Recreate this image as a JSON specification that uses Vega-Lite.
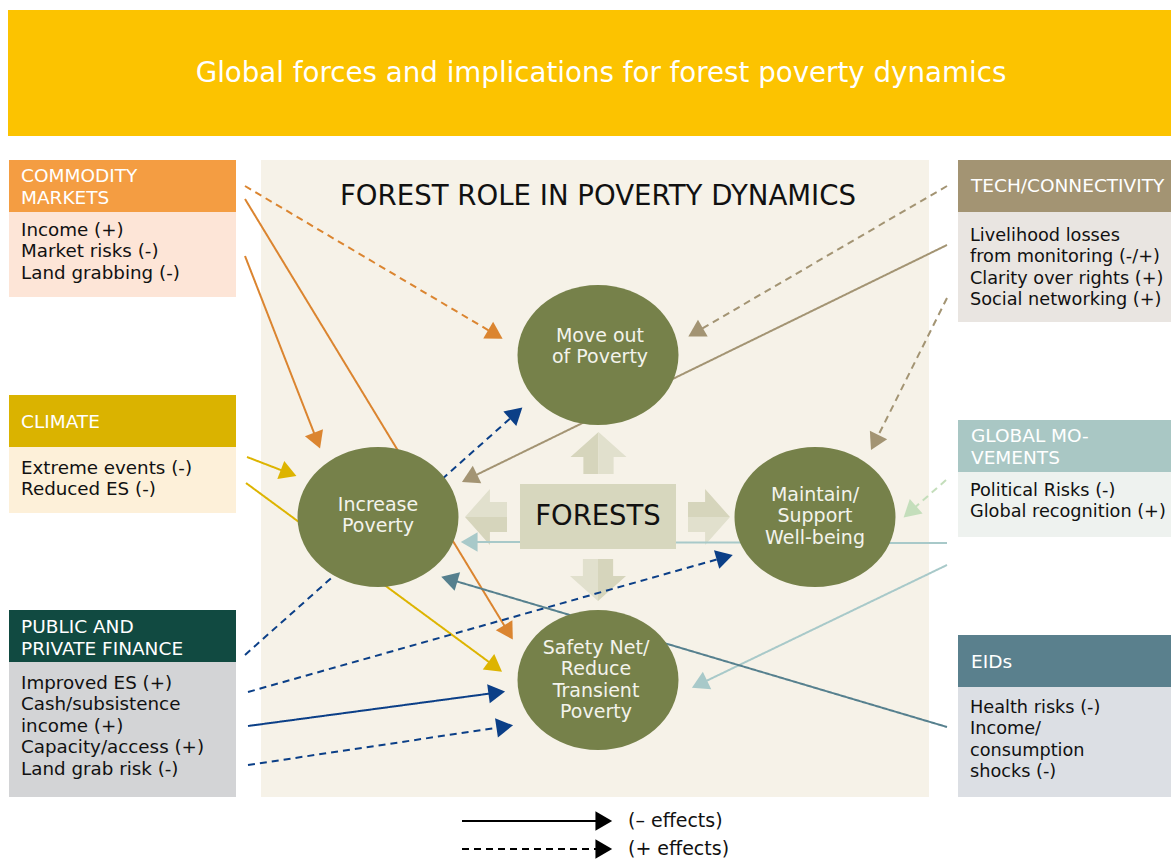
{
  "$schema": "https://vega.github.io/schema/vega-lite/v6.json",
  "width": 1171,
  "height": 859,
  "padding": 0,
  "autosize": {"type": "none"},
  "background": "#ffffff",
  "config": {"view": {"stroke": null}, "axis": {"disable": true}, "legend": {"disable": true}, "font": "DejaVu Sans"},
  "datasets": {
    "rects": [
      {"key": "banner", "x": 8, "x2": 1171, "y": 10, "y2": 136},
      {"key": "panel", "x": 261, "x2": 929, "y": 160, "y2": 797},
      {"key": "com_h", "x": 9, "x2": 236, "y": 160, "y2": 212},
      {"key": "com_b", "x": 9, "x2": 236, "y": 212, "y2": 297},
      {"key": "cli_h", "x": 9, "x2": 236, "y": 395, "y2": 447},
      {"key": "cli_b", "x": 9, "x2": 236, "y": 447, "y2": 513},
      {"key": "fin_h", "x": 9, "x2": 236, "y": 610, "y2": 662},
      {"key": "fin_b", "x": 9, "x2": 236, "y": 662, "y2": 797},
      {"key": "tech_h", "x": 958, "x2": 1171, "y": 160, "y2": 212},
      {"key": "tech_b", "x": 958, "x2": 1171, "y": 212, "y2": 322},
      {"key": "gm_h", "x": 958, "x2": 1171, "y": 420, "y2": 472},
      {"key": "gm_b", "x": 958, "x2": 1171, "y": 472, "y2": 537},
      {"key": "eid_h", "x": 958, "x2": 1171, "y": 635, "y2": 687},
      {"key": "eid_b", "x": 958, "x2": 1171, "y": 687, "y2": 797}
    ],
    "box": [{"key": "forests", "x": 520, "x2": 676, "y": 484, "y2": 549}],
    "bigarrows": [
      {"dir": "up", "x": 598.5, "y": 453, "deg": 0},
      {"dir": "right", "x": 709, "y": 517, "deg": 90},
      {"dir": "down", "x": 598, "y": 580, "deg": 180},
      {"dir": "left", "x": 486, "y": 517, "deg": 270}
    ],
    "arrows": [
      {"key": "commodity", "style": "dashed", "x0": 245, "y0": 186, "hx": 493, "hy": 333, "deg": 120.7},
      {"key": "commodity", "style": "solid", "x0": 245, "y0": 199, "hx": 507, "hy": 630, "deg": 148.7},
      {"key": "commodity", "style": "solid", "x0": 245, "y0": 256, "hx": 316, "hy": 438, "deg": 158.7},
      {"key": "climate", "style": "solid", "x0": 247, "y0": 457, "hx": 286, "hy": 472, "deg": 111},
      {"key": "climate", "style": "solid", "x0": 246, "y0": 483, "hx": 493, "hy": 665, "deg": 126.4},
      {"key": "finance", "style": "dashed", "x0": 245, "y0": 655, "hx": 514, "hy": 415, "deg": 48.3},
      {"key": "finance", "style": "dashed", "x0": 248, "y0": 692, "hx": 722, "hy": 558, "deg": 74.2},
      {"key": "finance", "style": "solid", "x0": 248, "y0": 726, "hx": 494, "hy": 693, "deg": 82.4},
      {"key": "finance", "style": "dashed", "x0": 248, "y0": 765, "hx": 502, "hy": 727, "deg": 81.5},
      {"key": "tech", "style": "dashed", "x0": 947, "y0": 186, "hx": 698, "hy": 331, "deg": 239.8},
      {"key": "tech", "style": "solid", "x0": 947, "y0": 245, "hx": 472, "hy": 477, "deg": 244},
      {"key": "tech", "style": "dashed", "x0": 947, "y0": 298, "hx": 876, "hy": 440, "deg": 206.6},
      {"key": "gm_green", "style": "dashed", "x0": 946, "y0": 480, "hx": 912, "hy": 510, "deg": 228.6},
      {"key": "gm_teal", "style": "solid", "x0": 947, "y0": 543, "hx": 472, "hy": 542, "deg": 270},
      {"key": "gm_teal", "style": "solid", "x0": 947, "y0": 565, "hx": 702, "hy": 683, "deg": 244.3},
      {"key": "eid", "style": "solid", "x0": 947, "y0": 727, "hx": 452, "hy": 580, "deg": 286.5},
      {"key": "legend", "style": "solid", "x0": 462, "y0": 821, "hx": 601, "hy": 821, "deg": 90},
      {"key": "legend", "style": "dashed", "x0": 462, "y0": 849, "hx": 601, "hy": 849, "deg": 90}
    ],
    "circles": [
      {"name": "Move out of Poverty", "x": 598, "y": 355},
      {"name": "Increase Poverty", "x": 378, "y": 517},
      {"name": "Maintain/Support Well-being", "x": 815, "y": 517},
      {"name": "Safety Net/Reduce Transient Poverty", "x": 598, "y": 680}
    ],
    "circletext": [
      {"text": "Move out\nof Poverty", "x": 600, "y": 336},
      {"text": "Increase\nPoverty", "x": 378, "y": 505},
      {"text": "Maintain/\nSupport\nWell-being", "x": 815, "y": 495},
      {"text": "Safety Net/\nReduce\nTransient\nPoverty", "x": 596, "y": 648}
    ],
    "headers": [
      {"text": "COMMODITY\nMARKETS", "x": 21, "y": 176},
      {"text": "CLIMATE", "x": 21, "y": 422},
      {"text": "PUBLIC AND\nPRIVATE FINANCE", "x": 21, "y": 627},
      {"text": "TECH/CONNECTIVITY", "x": 971, "y": 186},
      {"text": "GLOBAL MO-\nVEMENTS", "x": 971, "y": 436},
      {"text": "EIDs", "x": 971, "y": 662}
    ],
    "bodies_left": [
      {"text": "Income (+)\nMarket risks (-)\nLand grabbing (-)", "x": 21, "y": 230.5},
      {"text": "Extreme events (-)\nReduced  ES (-)", "x": 21, "y": 468.5},
      {"text": "Improved ES (+)\nCash/subsistence\nincome (+)\nCapacity/access (+)\nLand grab risk (-)", "x": 21, "y": 683.5}
    ],
    "bodies_right": [
      {"text": "Livelihood losses\nfrom monitoring (-/+)\nClarity over rights (+)\nSocial networking (+)", "x": 970, "y": 235.5},
      {"text": "Political Risks (-)\nGlobal recognition (+)", "x": 970, "y": 490.5},
      {"text": "Health risks (-)\nIncome/\nconsumption\nshocks (-)", "x": 970, "y": 707.5}
    ],
    "bigtext": [
      {"role": "title", "text": "Global forces and implications for forest poverty dynamics", "x": 601, "y": 74},
      {"role": "panel", "text": "FOREST ROLE IN POVERTY DYNAMICS", "x": 598, "y": 197},
      {"role": "forests", "text": "FORESTS", "x": 598, "y": 517}
    ],
    "legendtext": [
      {"text": "(– effects)", "x": 628, "y": 821},
      {"text": "(+ effects)", "x": 628, "y": 849}
    ]
  },
  "layer": [
    {
      "data": {"name": "rects"},
      "mark": {"type": "rect"},
      "encoding": {
        "x": {"field": "x", "type": "quantitative", "scale": {"domain": [0, 1171], "nice": false, "zero": false}},
        "x2": {"field": "x2"},
        "y": {"field": "y", "type": "quantitative", "scale": {"domain": [0, 859], "nice": false, "zero": false, "reverse": true}},
        "y2": {"field": "y2"},
        "color": {"field": "key", "type": "nominal", "legend": null,
          "scale": {"domain": ["banner", "panel", "com_h", "com_b", "cli_h", "cli_b", "fin_h", "fin_b", "tech_h", "tech_b", "gm_h", "gm_b", "eid_h", "eid_b", "forests", "commodity", "climate", "finance", "tech", "gm_green", "gm_teal", "eid", "legend"],
                    "range": ["#FCC300", "#F6F2E8", "#F49D42", "#FDE5D7", "#DAB300", "#FDF0D9", "#114A41", "#D3D4D6", "#A39473", "#E9E5E1", "#A9C7C4", "#EEF2EF", "#5A808D", "#DCDFE4", "#D7D7BE", "#DB8530", "#DDB400", "#0B3F87", "#A39473", "#C4DEBB", "#A8C9C9", "#56808E", "#000000"]}}
      }
    },
    {
      "data": {"name": "bigarrows"},
      "mark": {"type": "point", "filled": true, "opacity": 1, "color": "#D6D5BC", "size": 3136, "shape": "M 0 -0.75 L 0 0.75 L -0.54 0.75 L -0.54 0.14 L -1 0.14 Z"},
      "encoding": {
        "x": {"field": "x", "type": "quantitative"},
        "y": {"field": "y", "type": "quantitative"},
        "angle": {"field": "deg", "type": "quantitative", "scale": null}
      }
    },
    {
      "data": {"name": "bigarrows"},
      "mark": {"type": "point", "filled": true, "opacity": 1, "color": "#E1E0CD", "size": 3136, "shape": "M 0 -0.75 L 1 0.14 L 0.54 0.14 L 0.54 0.75 L 0 0.75 Z"},
      "encoding": {
        "x": {"field": "x", "type": "quantitative"},
        "y": {"field": "y", "type": "quantitative"},
        "angle": {"field": "deg", "type": "quantitative", "scale": null}
      }
    },
    {
      "data": {"name": "arrows"},
      "mark": {"type": "rule", "strokeWidth": 2},
      "encoding": {
        "x": {"field": "x0", "type": "quantitative"},
        "y": {"field": "y0", "type": "quantitative"},
        "x2": {"field": "hx"},
        "y2": {"field": "hy"},
        "color": {"field": "key", "type": "nominal", "legend": null},
        "strokeDash": {"field": "style", "type": "nominal", "legend": null, "scale": {"domain": ["solid", "dashed"], "range": [[1, 0], [7, 5]]}}
      }
    },
    {
      "data": {"name": "arrows"},
      "mark": {"type": "point", "filled": true, "opacity": 1, "size": 500, "shape": "M 0 -1 L 0.866 0.5 L -0.866 0.5 Z"},
      "encoding": {
        "x": {"field": "hx", "type": "quantitative"},
        "y": {"field": "hy", "type": "quantitative"},
        "color": {"field": "key", "type": "nominal", "legend": null},
        "angle": {"field": "deg", "type": "quantitative", "scale": null}
      }
    },
    {
      "data": {"name": "box"},
      "mark": {"type": "rect"},
      "encoding": {
        "x": {"field": "x", "type": "quantitative"},
        "x2": {"field": "x2"},
        "y": {"field": "y", "type": "quantitative"},
        "y2": {"field": "y2"},
        "color": {"field": "key", "type": "nominal", "legend": null}
      }
    },
    {
      "data": {"name": "circles"},
      "mark": {"type": "point", "filled": true, "opacity": 1, "color": "#76814A", "size": 25921, "shape": "M -1 0 A 1 0.87 0 1 0 1 0 A 1 0.87 0 1 0 -1 0 Z"},
      "encoding": {
        "x": {"field": "x", "type": "quantitative"},
        "y": {"field": "y", "type": "quantitative"}
      }
    },
    {
      "data": {"name": "circletext"},
      "mark": {"type": "text", "color": "#F3F3EC", "fontSize": 19, "lineBreak": "\n", "lineHeight": 21.3, "align": "center", "baseline": "middle"},
      "encoding": {
        "x": {"field": "x", "type": "quantitative"},
        "y": {"field": "y", "type": "quantitative"},
        "text": {"field": "text"}
      }
    },
    {
      "data": {"name": "headers"},
      "mark": {"type": "text", "color": "#FFFFFF", "fontSize": 18.5, "lineBreak": "\n", "lineHeight": 21.5, "align": "left", "baseline": "middle"},
      "encoding": {
        "x": {"field": "x", "type": "quantitative"},
        "y": {"field": "y", "type": "quantitative"},
        "text": {"field": "text"}
      }
    },
    {
      "data": {"name": "bodies_left"},
      "mark": {"type": "text", "color": "#111111", "fontSize": 18.3, "lineBreak": "\n", "lineHeight": 21.5, "align": "left", "baseline": "middle"},
      "encoding": {
        "x": {"field": "x", "type": "quantitative"},
        "y": {"field": "y", "type": "quantitative"},
        "text": {"field": "text"}
      }
    },
    {
      "data": {"name": "bodies_right"},
      "mark": {"type": "text", "color": "#111111", "fontSize": 17.7, "lineBreak": "\n", "lineHeight": 21.5, "align": "left", "baseline": "middle"},
      "encoding": {
        "x": {"field": "x", "type": "quantitative"},
        "y": {"field": "y", "type": "quantitative"},
        "text": {"field": "text"}
      }
    },
    {
      "data": {"name": "bigtext"},
      "mark": {"type": "text", "align": "center", "baseline": "middle"},
      "encoding": {
        "x": {"field": "x", "type": "quantitative"},
        "y": {"field": "y", "type": "quantitative"},
        "text": {"field": "text"},
        "size": {"field": "role", "type": "nominal", "legend": null, "scale": {"domain": ["title", "panel", "forests"], "range": [27.7, 27.5, 27.5]}},
        "fill": {"field": "role", "type": "nominal", "legend": null, "scale": {"domain": ["title", "panel", "forests"], "range": ["#FFFFFF", "#111111", "#111111"]}}
      }
    },
    {
      "data": {"name": "legendtext"},
      "mark": {"type": "text", "color": "#111111", "fontSize": 19, "align": "left", "baseline": "middle"},
      "encoding": {
        "x": {"field": "x", "type": "quantitative"},
        "y": {"field": "y", "type": "quantitative"},
        "text": {"field": "text"}
      }
    }
  ]
}
